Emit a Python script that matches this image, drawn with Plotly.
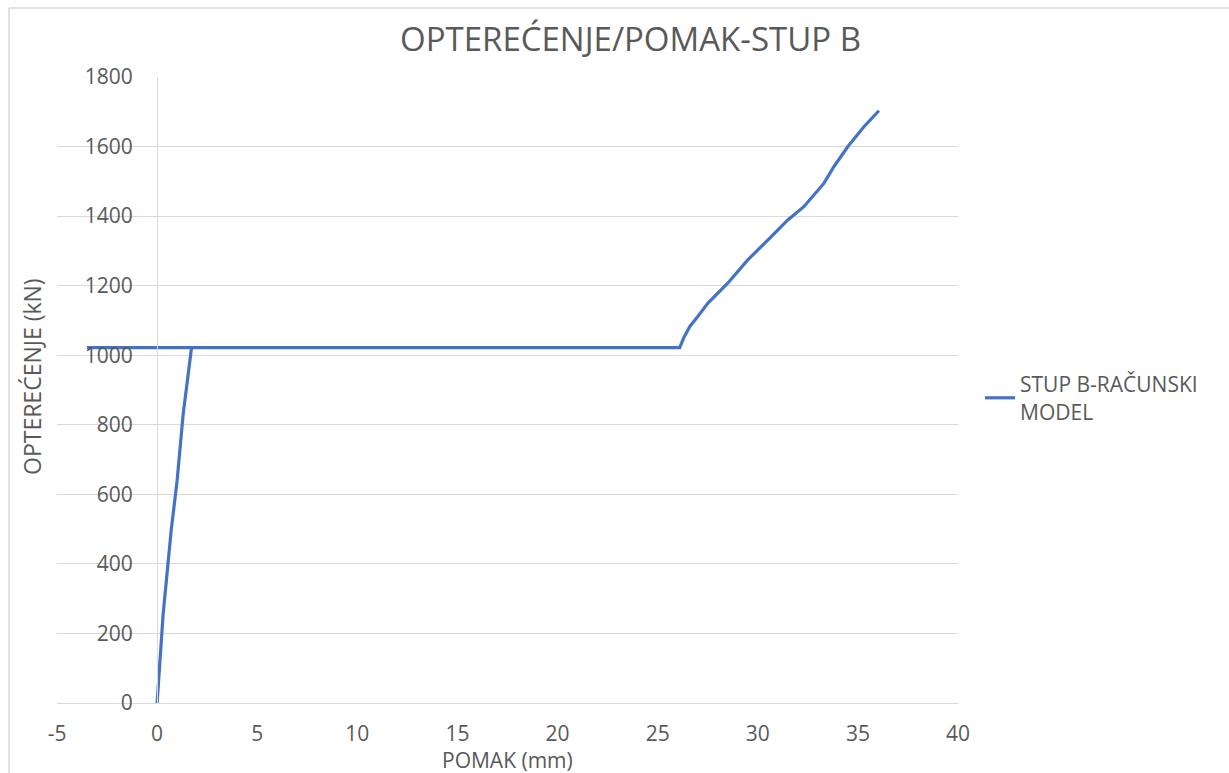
import plotly.graph_objects as go

# Load-displacement curve for column B (computational model)
displacement_mm = [0.0, 0.3, 0.7, 1.0, 1.3, 1.72, -3.5, 26.1,
                   26.3, 26.6, 27.0, 27.5, 28.5, 29.5, 30.5, 31.5, 32.3, 33.3, 33.8, 34.5, 35.3, 36.05]
load_kN = [0, 255, 495, 640, 830, 1022, 1022, 1022,
           1050, 1082, 1111, 1149, 1207, 1274, 1331, 1389, 1427, 1494, 1542, 1600, 1657, 1703]

x_ticks = [-5, 0, 5, 10, 15, 20, 25, 30, 35, 40]
y_ticks = [0, 200, 400, 600, 800, 1000, 1200, 1400, 1600, 1800]

series_name = "STUP B-RAČUNSKI<br>MODEL"
title_text = "OPTEREĆENJE/POMAK-STUP B"
x_title = "POMAK (mm)"
y_title = "OPTEREĆENJE (kN)"

FONT = "Open Sans"
TXT = "#595959"
GRID = "#D9D9D9"

x_range = [-5, 40]
y_range = [0, 1800]

fig = go.Figure()
fig.add_trace(go.Scatter(
    x=displacement_mm, y=load_kN, mode="lines", name=series_name,
    line=dict(color="#4472C4", width=3.2),
    showlegend=True,
))

W, H = 1229, 773
L, R, T, B = 57, 271, 77, 70
pw = W - L - R
ph = H - T - B


def px_x(p):
    return (p - L) / pw


def px_y(p):
    return (H - B - p) / ph


fig.update_layout(
    width=W, height=H,
    margin=dict(l=L, r=R, t=T, b=B),
    paper_bgcolor="white", plot_bgcolor="white",
    font=dict(family=FONT, color=TXT),
    showlegend=True,
    legend=dict(
        x=px_x(980), y=px_y(398), xanchor="left", yanchor="middle",
        font=dict(size=21, color=TXT, family=FONT),
        bgcolor="rgba(0,0,0,0)", itemwidth=30,
    ),
    xaxis=dict(
        range=x_range, tickvals=x_ticks, ticktext=[str(v) for v in x_ticks],
        showgrid=False, zeroline=False, showline=True, linecolor=GRID, linewidth=1.3,
        ticks="", tickfont=dict(size=21, color=TXT), ticklabelstandoff=12,
    ),
    yaxis=dict(
        range=y_range, tickvals=y_ticks, ticktext=[str(v) for v in y_ticks],
        anchor="free", position=(0 - x_range[0]) / (x_range[1] - x_range[0]),
        showgrid=True, gridcolor=GRID, gridwidth=1.3,
        zeroline=False, showline=True, linecolor=GRID, linewidth=1.3,
        ticks="", tickfont=dict(size=21, color=TXT), ticklabelstandoff=20,
    ),
    annotations=[
        dict(text=title_text, x=px_x(630), y=px_y(39), xref="paper", yref="paper",
             xanchor="center", yanchor="middle", showarrow=False,
             font=dict(size=33, color=TXT, family=FONT)),
        dict(text=x_title, x=px_x(507), y=px_y(760), xref="paper", yref="paper",
             xanchor="center", yanchor="middle", showarrow=False,
             font=dict(size=21, color=TXT, family=FONT)),
        dict(text=y_title, x=px_x(32), y=px_y(377), xref="paper", yref="paper",
             xanchor="center", yanchor="middle", showarrow=False, textangle=-90,
             font=dict(size=23, color=TXT, family=FONT)),
    ],
    shapes=[
        dict(type="line", xref="paper", yref="paper",
             x0=px_x(9), x1=px_x(W), y0=px_y(8), y1=px_y(8),
             line=dict(color=GRID, width=1.5)),
        dict(type="line", xref="paper", yref="paper",
             x0=px_x(9), x1=px_x(9), y0=px_y(8), y1=px_y(H),
             line=dict(color=GRID, width=1.5)),
    ],
)

fig.write_html("out.html")
